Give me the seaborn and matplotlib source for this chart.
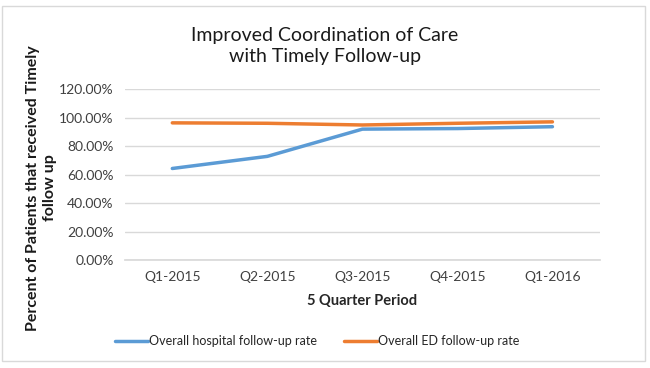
import pandas as pd
import seaborn as sns
import matplotlib.pyplot as plt
from matplotlib.ticker import PercentFormatter
from matplotlib.patches import Rectangle

# Data
quarters = ["Q1-2015", "Q2-2015", "Q3-2015", "Q4-2015", "Q1-2016"]
hospital_rate = [64.3, 72.8, 91.9, 92.3, 93.6]
ed_rate = [96.3, 96.0, 94.8, 96.0, 97.0]
series_names = ["Overall hospital follow-up rate", "Overall ED follow-up rate"]

df = pd.DataFrame({
    "quarter": quarters * 2,
    "rate": hospital_rate + ed_rate,
    "series": [series_names[0]] * 5 + [series_names[1]] * 5,
})

sns.set_theme(style="white")
plt.rcParams["font.family"] = ["Lato", "DejaVu Sans"]

fig = plt.figure(figsize=(6.5, 3.68), dpi=100)
ax = fig.add_axes([0.192, 0.293, 0.731, 0.465])

sns.lineplot(data=df, x="quarter", y="rate", hue="series", sort=False,
             palette=["#5b9bd5", "#ed7d31"], linewidth=2.5, ax=ax, legend=False)

ax.set_ylim(0, 120)
ax.set_yticks(range(0, 121, 20))
ax.yaxis.set_major_formatter(PercentFormatter(decimals=2))
ax.set_xlim(-0.5, 4.5)
ax.grid(axis="y", color="#d9d9d9", linewidth=1)
for s in ax.spines.values():
    s.set_visible(False)
ax.spines["bottom"].set_visible(True)
ax.spines["bottom"].set_color("#d9d9d9")
ax.tick_params(axis="both", labelsize=10, colors="#404040", length=0, pad=8)
ax.set_xlabel("5 Quarter Period", fontsize=10.5, fontweight="bold", labelpad=8)
ax.set_ylabel("")

# y label drawn as figure text so both lines are centred
fig.text(0.064, 0.49, "Percent of Patients that received Timely\nfollow up",
         rotation=90, ha="center", va="center", multialignment="center",
         fontsize=11.5, fontweight="bold", color="#1a1a1a")

fig.text(0.5, 0.875, "Improved Coordination of Care\nwith Timely Follow-up",
         ha="center", va="center", fontsize=14, color="#1a1a1a", linespacing=1.3)

# legend
handles = [plt.Line2D([], [], color=c, linewidth=2.5) for c in ["#5b9bd5", "#ed7d31"]]
fig.legend(handles, series_names, loc="center", bbox_to_anchor=(0.488, 0.073), ncol=2,
           frameon=False, fontsize=9, handlelength=2.6, handletextpad=0.1,
           columnspacing=2.2)

# outer border
fig.patches.append(Rectangle((0.003, 0.02), 0.99, 0.965, transform=fig.transFigure,
                             fill=False, edgecolor="#d9d9d9", linewidth=1))

fig.savefig("out.png", dpi=100)
